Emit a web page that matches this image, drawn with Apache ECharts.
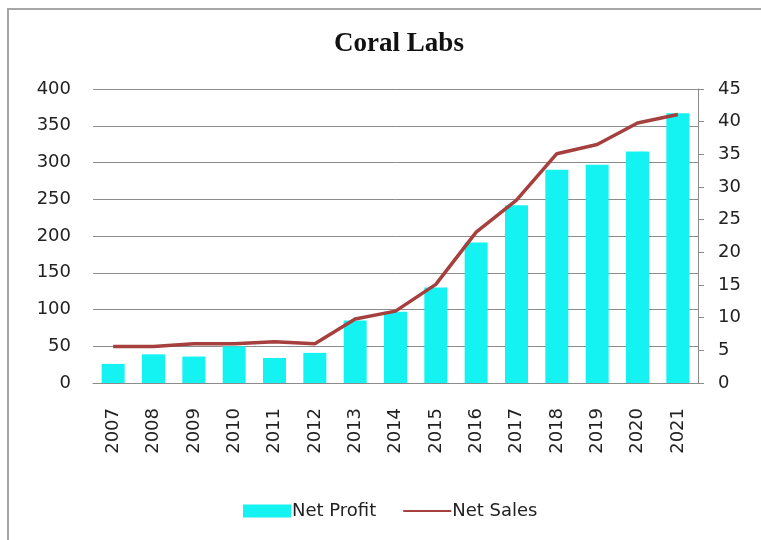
<!DOCTYPE html>
<html>
<head>
<meta charset="utf-8">
<script src="https://cdn.jsdelivr.net/npm/echarts@6/dist/echarts.min.js"></script>
<style>html,body{margin:0;padding:0;background:#fff}#c{width:761px;height:540px}</style>
</head>
<body>
<div id="c"></div>
<script>
const years = ['2007','2008','2009','2010','2011','2012','2013','2014','2015','2016','2017','2018','2019','2020','2021'];
const netProfit = [26, 39, 36, 50, 34, 41, 85, 97, 130, 191, 242, 290, 297, 315, 367];
const netSales = [5.6, 5.6, 6.0, 6.0, 6.3, 6.0, 9.8, 11, 15.1, 23.1, 28.0, 35.1, 36.5, 39.8, 41.1];
const leftTicks = {min: 0, max: 400, interval: 50};
const rightTicks = {min: 0, max: 45, interval: 5};

const font = 'DejaVu Sans';
const chart = echarts.init(document.getElementById('c'), null, {renderer: 'canvas'});
chart.setOption({
  animation: false,
  backgroundColor: '#fff',
  graphic: [
    {type: 'polyline', shape: {points: [[8, 545], [8, 9], [770, 9]]}, style: {stroke: '#a6a6a6', lineWidth: 2, fill: null}}
  ],
  title: {
    text: 'Coral Labs',
    left: 394, top: 26, textAlign: 'center',
    textStyle: {fontFamily: 'Liberation Serif', fontWeight: 'bold', fontSize: 27, color: '#111'}
  },
  grid: {left: 93, right: 63, top: 89, bottom: 157, containLabel: false},
  legend: {
    data: [
      {name: 'Net Profit', icon: 'rect'},
      {name: 'Net Sales', itemStyle: {opacity: 0}}
    ],
    left: 238, top: 497,
    itemWidth: 48, itemHeight: 13, itemGap: 26,
    textStyle: {fontFamily: font, fontSize: 18, color: '#222', padding: [0, 0, 0, -4]}
  },
  xAxis: {
    type: 'category', data: years,
    axisLine: {lineStyle: {color: '#8c8c8c', width: 1}},
    axisTick: {show: false},
    axisLabel: {rotate: 90, fontFamily: font, fontSize: 18, color: '#222', margin: 25}
  },
  yAxis: [
    {
      type: 'value', position: 'left', ...leftTicks,
      axisLine: {show: false}, axisTick: {show: false},
      splitLine: {lineStyle: {color: '#8c8c8c', width: 1}},
      axisLabel: {fontFamily: font, fontSize: 18, color: '#222', margin: 22}
    },
    {
      type: 'value', position: 'right', ...rightTicks,
      axisLine: {show: true, lineStyle: {color: '#8c8c8c', width: 1}},
      axisTick: {show: true, length: 6, lineStyle: {color: '#8c8c8c'}},
      splitLine: {show: false},
      axisLabel: {fontFamily: font, fontSize: 18, color: '#222', margin: 20}
    }
  ],
  series: [
    {
      name: 'Net Profit', type: 'bar', yAxisIndex: 0, data: netProfit,
      barWidth: '57%', itemStyle: {color: '#14f2f2'}
    },
    {
      name: 'Net Sales', type: 'line', yAxisIndex: 1, data: netSales,
      symbol: 'none', lineStyle: {color: '#a5403e', width: 3.5},
      itemStyle: {color: '#a5403e'}
    }
  ]
});
</script>
</body>
</html>
